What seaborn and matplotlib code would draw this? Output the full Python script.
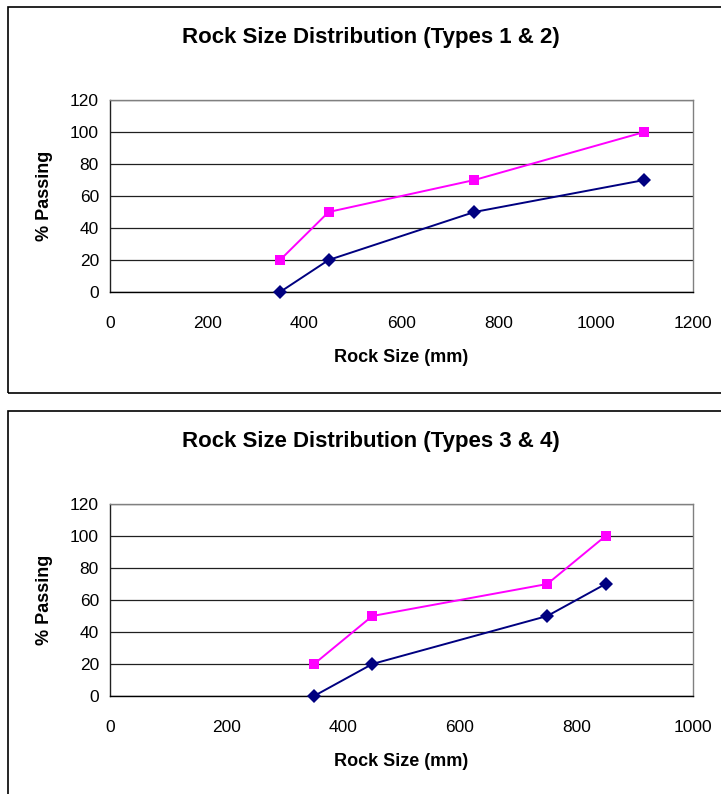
import matplotlib
matplotlib.use("Agg")
import matplotlib.pyplot as plt
import seaborn as sns
import pandas as pd
from matplotlib.patches import Rectangle

sns.set_theme(style="white")
plt.rcParams['font.family'] = ['Liberation Sans', 'DejaVu Sans']
plt.rcParams['text.color'] = 'black'
plt.rcParams['axes.labelcolor'] = 'black'

# Data
rock_size_a = [350, 450, 750, 1100]
type1 = [0, 20, 50, 70]
type2 = [20, 50, 70, 100]

rock_size_b = [350, 450, 750, 850]
type3 = [0, 20, 50, 70]
type4 = [20, 50, 70, 100]

titles = ["Rock Size Distribution (Types 1 & 2)", "Rock Size Distribution (Types 3 & 4)"]
x_ticks_a = [0, 200, 400, 600, 800, 1000, 1200]
x_ticks_b = [0, 200, 400, 600, 800, 1000]
y_ticks = [0, 20, 40, 60, 80, 100, 120]

NAVY = "#000080"
MAGENTA = "#FF00FF"

W, H = 721, 794
fig = plt.figure(figsize=(W / 100, H / 100), dpi=100)

# Panel boxes
fig.patches.append(Rectangle((8 / W, 1 - 393 / H), (W + 10) / W, 386 / H,
                             transform=fig.transFigure, fill=False,
                             edgecolor="black", linewidth=1.2, zorder=0))
fig.patches.append(Rectangle((8 / W, -0.05), (W + 10) / W, 1 - 411 / H + 0.05,
                             transform=fig.transFigure, fill=False,
                             edgecolor="black", linewidth=1.2, zorder=0))

def make_panel(rect, xs, y_lo, y_hi, title, xticks, title_y):
    ax = fig.add_axes(rect)
    df = pd.DataFrame({
        "x": xs + xs,
        "y": y_lo + y_hi,
        "series": ["lo"] * len(xs) + ["hi"] * len(xs),
    })
    sns.lineplot(data=df, x="x", y="y", hue="series", style="series",
                 palette={"lo": NAVY, "hi": MAGENTA},
                 markers={"lo": "D", "hi": "s"}, dashes=False,
                 markersize=7, markeredgewidth=0, linewidth=1.4,
                 legend=False, ax=ax, zorder=3, clip_on=False)
    ax.set_xlim(xticks[0], xticks[-1])
    ax.set_ylim(0, 120)
    ax.set_xticks(xticks)
    ax.set_yticks(y_ticks)
    ax.yaxis.grid(True, color="#202020", linewidth=0.9)
    ax.xaxis.grid(False)
    ax.set_axisbelow(True)
    for s in ["top", "right"]:
        ax.spines[s].set_color("#808080")
        ax.spines[s].set_linewidth(1.0)
    ax.spines["left"].set_color("#202020")
    ax.spines["left"].set_linewidth(1.0)
    ax.spines["bottom"].set_color("black")
    ax.spines["bottom"].set_linewidth(1.0)
    ax.tick_params(axis="both", direction="out", length=5, width=1,
                   color="black", labelsize=12.5, labelcolor="black", pad=3)
    ax.tick_params(axis="x", pad=12)
    ax.set_xlabel("Rock Size (mm)", fontsize=13, fontweight="bold",
                  labelpad=13, color="black")
    ax.set_ylabel("% Passing", fontsize=13, fontweight="bold",
                  labelpad=12, color="black")
    fig.text(371 / W, title_y, title, color="black",
             ha="center", va="center", fontsize=16, fontweight="bold")
    return ax

left = 110 / W
width = (693 - 110) / W
make_panel([left, 1 - 292 / H, width, 192 / H], rock_size_a, type1, type2,
           titles[0], x_ticks_a, 1 - 38 / H)
make_panel([left, 1 - 696 / H, width, 192 / H], rock_size_b, type3, type4,
           titles[1], x_ticks_b, 1 - 442 / H)

fig.savefig("out.png", dpi=100, facecolor="white")
